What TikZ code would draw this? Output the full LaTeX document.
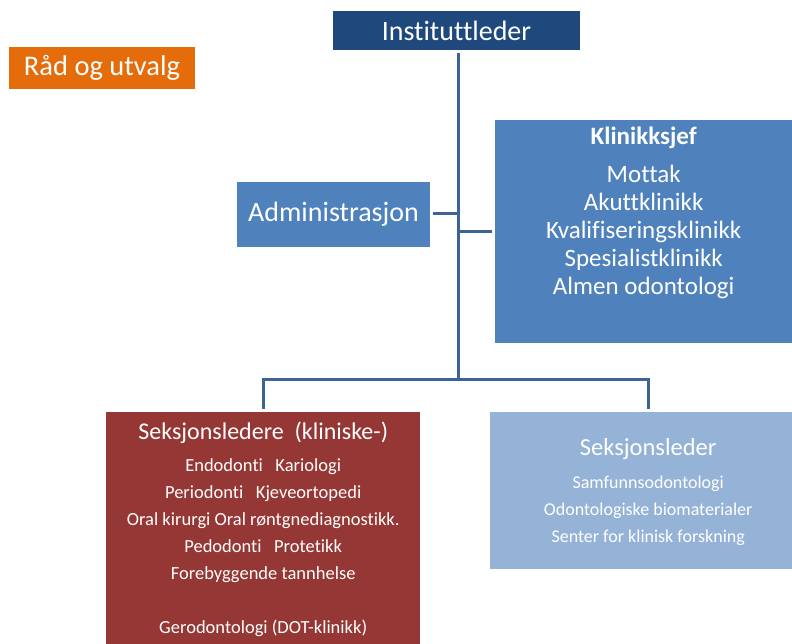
\documentclass[tikz,border=0pt]{standalone}
\usepackage{fontspec}
\setmainfont{Carlito}[Ligatures=NoCommon]
\usetikzlibrary{positioning}

\definecolor{ledercol}{HTML}{1F497D}
\definecolor{raadcol}{HTML}{E46C0A}
\definecolor{midblue}{HTML}{4F81BD}
\definecolor{klinred}{HTML}{953735}
\definecolor{lightblue}{HTML}{95B3D7}
\definecolor{linkcol}{HTML}{3C6494}

\tikzset{
  box/.style={rectangle, inner sep=0pt, text=white},
  txt/.style={align=center, text=white, inner sep=0pt},
  link/.style={draw=linkcol, line width=3pt, shorten <=3pt, shorten >=3pt}
}

\begin{document}
\begin{tikzpicture}[x=1pt, y=-1pt]
\clip (0,0) rectangle (792,643);

% top level
\node (leder) [box, fill=ledercol, minimum width=247, minimum height=39, font=\fontsize{28}{32}\selectfont] at (456.5,30.5) {Instituttleder};
\node (raad) [box, fill=raadcol, minimum width=186, minimum height=42, font=\fontsize{28.5}{32}\selectfont] at (102,68) {Råd og utvalg};

% staff
\node (admin) [box, fill=midblue, minimum width=193, minimum height=65, font=\fontsize{28}{32}\selectfont] at (333.5,214.5) {Administrasjon};
\node (klinikk) [box, fill=midblue, minimum width=297, minimum height=223, anchor=north west] at (495,120) {};
\node (klinikktxt) [txt, below=7pt of klinikk.north, font=\fontsize{25}{28}\selectfont] {{\bfseries\fontsize{25}{28}\selectfont Klinikksjef}\\[10pt]
  Mottak\\ Akuttklinikk\\ Kvalifiseringsklinikk\\ Spesialistklinikk\\ Almen odontologi};

% sections
\node (kliniske) [box, fill=klinred, minimum width=314, minimum height=240, anchor=north west] at (106,412) {};
\node (klinisketxt) [txt, below=10pt of kliniske.north, font=\fontsize{18.5}{27}\selectfont] {{\fontsize{24}{27}\selectfont Seksjonsledere\ \ (kliniske-)}\\[5pt]
  Endodonti\ \ \ Kariologi\\ Periodonti\ \ \ Kjeveortopedi\\ Oral kirurgi Oral røntgnediagnostikk.\\
  Pedodonti\ \ \ Protetikk\\ Forebyggende tannhelse\\ \\ Gerodontologi (DOT-klinikk)};
\node (seksjon) [box, fill=lightblue, minimum width=316, minimum height=157, anchor=north west] at (490,412) {};
\node (seksjontxt) [txt, below=26pt of seksjon.north, font=\fontsize{18}{27}\selectfont] {{\fontsize{24.5}{27}\selectfont Seksjonsleder}\\[6pt]
  Samfunnsodontologi\\ Odontologiske biomaterialer\\ Senter for klinisk forskning};

\coordinate (split) at (458,379);

% connectors
\draw [link, shorten >=0pt] (leder.south -| split) -- (split);
\draw [link, shorten >=0pt] ([yshift=1.5pt]admin.east) -- ([yshift=1.5pt]admin.east -| split);
\draw [link, shorten <=0pt] (klinikk.west -| split) -- (klinikk.west);
\draw [link, shorten <=0pt] (split) -| (kliniske.north);
\draw [link, shorten <=0pt] (split) -| (seksjon.north);
\end{tikzpicture}
\end{document}
